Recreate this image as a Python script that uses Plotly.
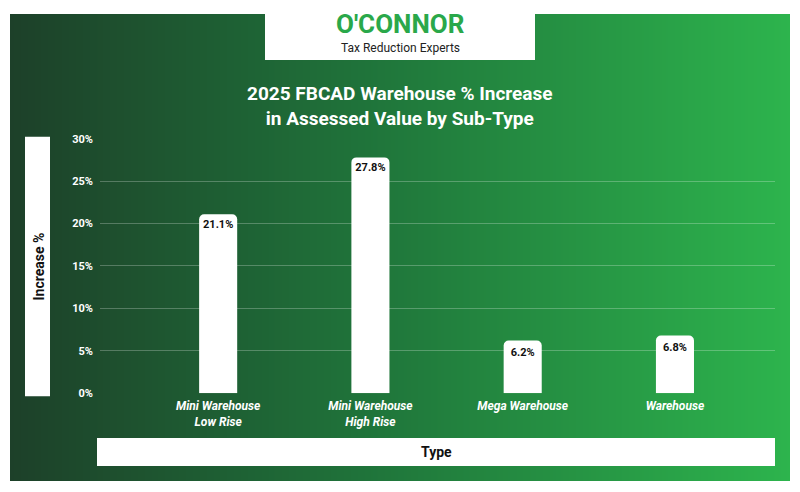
import plotly.graph_objects as go

categories = ["Mini Warehouse<br>Low Rise", "Mini Warehouse<br>High Rise", "Mega Warehouse", "Warehouse"]
values = [21.1, 27.8, 6.2, 6.8]
tick_vals = [0, 5, 10, 15, 20, 25, 30]
tick_text = ["0%", "5%", "10%", "15%", "20%", "25%", "30%"]

W, H = 800, 492
OX, OY, HR = 8, 12, 480  # page offset / drawn height seen in the render


def px(x):
    return (x - OX) / W


def py(y):
    return 1 - (y - OY) / HR


fig = go.Figure()

# background gradient on the first (bottom) axis pair, covering the panel
fig.add_trace(go.Heatmap(
    z=[[0, 1, 2, 3, 4]], x=[0, 0.25, 0.5, 0.75, 1], y=[0],
    colorscale=[[0, "#1d4029"], [0.45, "#1f733a"], [1, "#2db44d"]],
    zsmooth="best", showscale=False, hoverinfo="skip",
    xaxis="x", yaxis="y"))

fig.add_trace(go.Bar(
    x=categories, y=values,
    text=[f"{v}%" for v in values],
    textposition="inside", insidetextanchor="end",
    textfont=dict(family="Roboto", size=11, color="#111111", weight="bold"),
    marker=dict(color="white", line=dict(width=0)),
    width=0.25, cliponaxis=False, xaxis="x2", yaxis="y2"))

fig.update_layout(
    width=W, height=H, autosize=False,
    margin=dict(l=0, r=0, t=0, b=0, pad=0),
    paper_bgcolor="white", plot_bgcolor="rgba(0,0,0,0)",
    showlegend=False, barcornerradius=5,
    font=dict(family="Roboto", color="white"),
    xaxis=dict(domain=[max(px(10), 0), px(790)], range=[0, 1], visible=False, anchor="y"),
    yaxis=dict(domain=[max(py(480), 0), min(py(12), 1)], range=[-0.5, 0.5], visible=False, anchor="x"),
    xaxis2=dict(domain=[px(100), px(775)], range=[-0.776, 3.657], showgrid=False,
                zeroline=False, showline=False, anchor="y2",
                tickfont=dict(size=12, color="white", weight="bold", style="italic"),
                ticks="", ticklabelstandoff=4),
    yaxis2=dict(domain=[py(392), py(137)], range=[0, 30], tickvals=tick_vals, ticktext=tick_text,
                showgrid=True, gridcolor="rgba(255,255,255,0.25)", gridwidth=1, anchor="x2",
                zeroline=False, tickfont=dict(size=11, color="white", weight="bold"),
                ticklabelstandoff=6),
    annotations=[
        dict(text="2025 FBCAD Warehouse % Increase<br>in Assessed Value by Sub-Type",
             xref="paper", yref="paper", x=px(400), y=py(104), yanchor="middle", showarrow=False,
             font=dict(size=19, color="white", weight="bold")),
        dict(text="<b>O'CONNOR</b>", xref="paper", yref="paper", x=px(400), y=py(22),
             yanchor="middle", showarrow=False, font=dict(size=26, color="#2aa84a")),
        dict(text="Tax Reduction Experts", xref="paper", yref="paper", x=px(400), y=py(46),
             yanchor="middle", showarrow=False, font=dict(size=12, color="#222222")),
        dict(text="<b>Type</b>", xref="paper", yref="paper", x=px(436), y=py(451),
             yanchor="middle", showarrow=False, font=dict(size=14, color="#111111")),
        dict(text="<b>Increase %</b>", xref="paper", yref="paper", x=px(29), y=py(265),
             yanchor="middle", textangle=-90, showarrow=False,
             font=dict(size=14, color="#111111")),
    ],
    shapes=[
        dict(type="rect", xref="paper", yref="paper", layer="above",
             x0=px(265), x1=px(535), y0=py(58), y1=1,
             fillcolor="white", line=dict(width=0)),
        dict(type="rect", xref="paper", yref="paper", x0=px(97), x1=px(775),
             y0=py(465), y1=py(437), fillcolor="white", line=dict(width=0), layer="above"),
        dict(type="rect", xref="paper", yref="paper", x0=px(25), x1=px(50),
             y0=py(395), y1=py(135), fillcolor="white", line=dict(width=0), layer="above"),
    ],
)

fig.write_html("out.html")
